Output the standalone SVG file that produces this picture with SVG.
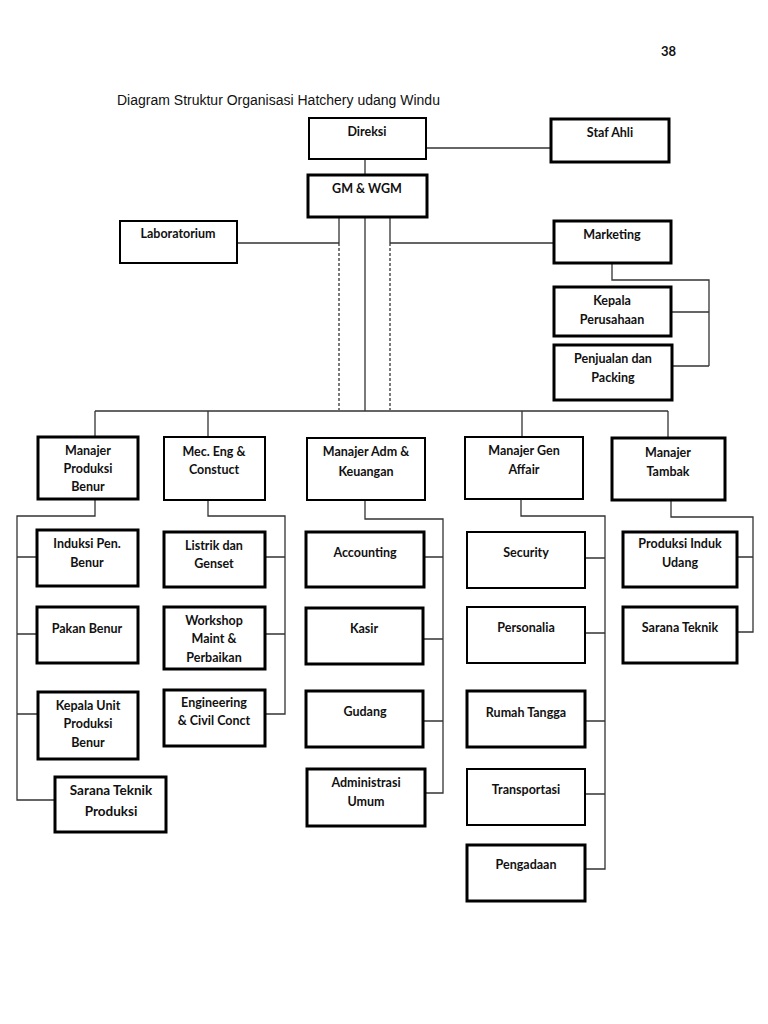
<svg xmlns="http://www.w3.org/2000/svg" width="768" height="1024" viewBox="0 0 768 1024">
<style>
.bg{fill:#fff}
.b{fill:#fff;stroke:#000;stroke-width:2}
.bt{fill:#fff;stroke:#000;stroke-width:3}
.t{font-family:Lato,"Open Sans",sans-serif;font-weight:700;font-size:12.5px;fill:#111;text-anchor:middle}
.tl{font-size:13.5px}
.c{fill:none;stroke:#333;stroke-width:1.3}
.d{fill:none;stroke:#333;stroke-width:1.3;stroke-dasharray:3 2}
.title{font-family:"Liberation Sans",Arial,sans-serif;font-size:14px;fill:#111}
.pg{font-family:Lato,"Open Sans",sans-serif;font-weight:700;font-size:13px;fill:#111;text-anchor:end}
</style>
<rect class="bg" x="0" y="0" width="768" height="1024"/>
<text class="pg" x="676" y="56">38</text>
<text class="title" x="117" y="105">Diagram Struktur Organisasi Hatchery udang Windu</text>

<g id="connectors">
<path class="c" d="M426 148H551"/>
<path class="c" d="M365 159V175"/>
<path class="c" d="M339 217V243M390 217V243"/>
<path class="d" d="M339 243V410M390 243V410"/>
<path class="c" d="M365 217V411"/>
<path class="c" d="M237 243H339M390 243H554"/>
<path class="c" d="M612 263V280H709V366M671 312H709M672 366H709"/>
<path class="c" d="M95 411H668M95 411V437M208 411V437M522 411V437M668 411V438"/>
<path class="c" d="M95 499V516H17V800H55M17 557H37M17 634H37M17 714H38"/>
<path class="c" d="M208 500V516H285V714H265M265 557H285M265 634H285"/>
<path class="c" d="M365 500V519H443V793H425M424 557H443M423 639H443M423 721H443"/>
<path class="c" d="M521 499V516H605V869H585M585 558H605M585 633H605M585 721H605M585 794H605"/>
<path class="c" d="M671 500V517H753V632H737M737 557H753"/>
</g>

<g id="direksi"><rect class="b" x="309" y="118" width="117" height="41"/><text class="t" x="367" y="136">Direksi</text></g>
<g id="staf-ahli"><rect class="bt" x="551" y="119" width="118" height="43"/><text class="t" x="610" y="137">Staf Ahli</text></g>
<g id="gm-wgm"><rect class="bt" x="308" y="175" width="119" height="42"/><text class="t" x="367" y="193">GM &amp; WGM</text></g>
<g id="laboratorium"><rect class="b" x="120" y="221" width="117" height="42"/><text class="t" x="178" y="238">Laboratorium</text></g>
<g id="marketing"><rect class="bt" x="554" y="221" width="117" height="42"/><text class="t" x="612" y="239">Marketing</text></g>
<g id="kepala-perusahaan"><rect class="bt" x="554" y="287" width="117" height="49"/><text class="t" x="612" y="305">Kepala</text><text class="t" x="612" y="324">Perusahaan</text></g>
<g id="penjualan-packing"><rect class="bt" x="554" y="345" width="118" height="55"/><text class="t" x="613" y="363">Penjualan dan</text><text class="t" x="613" y="382">Packing</text></g>

<g id="manajer-produksi-benur"><rect class="bt" x="38" y="437" width="100" height="62"/><text class="t" x="88" y="455">Manajer</text><text class="t" x="88" y="473">Produksi</text><text class="t" x="88" y="491">Benur</text></g>
<g id="mec-eng"><rect class="b" x="164" y="437" width="101" height="63"/><text class="t" x="214" y="456">Mec. Eng &amp;</text><text class="t" x="214" y="474">Constuct</text></g>
<g id="manajer-adm"><rect class="b" x="307" y="438" width="118" height="62"/><text class="t" x="366" y="456">Manajer Adm &amp;</text><text class="t" x="366" y="476">Keuangan</text></g>
<g id="manajer-gen-affair"><rect class="b" x="465" y="437" width="118" height="62"/><text class="t" x="524" y="455">Manajer Gen</text><text class="t" x="524" y="474">Affair</text></g>
<g id="manajer-tambak"><rect class="bt" x="612" y="438" width="113" height="62"/><text class="t" x="668" y="457">Manajer</text><text class="t" x="668" y="476">Tambak</text></g>

<g id="induksi"><rect class="bt" x="37" y="530" width="101" height="56"/><text class="t" x="87" y="548">Induksi Pen.</text><text class="t" x="87" y="567">Benur</text></g>
<g id="pakan-benur"><rect class="bt" x="37" y="607" width="101" height="56"/><text class="t" x="87" y="633">Pakan Benur</text></g>
<g id="kepala-unit"><rect class="bt" x="38" y="692" width="100" height="67"/><text class="t" x="88" y="710">Kepala Unit</text><text class="t" x="88" y="728">Produksi</text><text class="t" x="88" y="747">Benur</text></g>
<g id="sarana-teknik-produksi"><rect class="bt" x="55" y="777" width="111" height="55"/><text class="t tl" x="111" y="795">Sarana Teknik</text><text class="t tl" x="111" y="816">Produksi</text></g>

<g id="listrik"><rect class="bt" x="164" y="532" width="101" height="55"/><text class="t" x="214" y="550">Listrik dan</text><text class="t" x="214" y="568">Genset</text></g>
<g id="workshop"><rect class="bt" x="164" y="607" width="101" height="62"/><text class="t" x="214" y="625">Workshop</text><text class="t" x="214" y="643">Maint &amp;</text><text class="t" x="214" y="662">Perbaikan</text></g>
<g id="engineering"><rect class="bt" x="164" y="690" width="101" height="56"/><text class="t" x="214" y="707">Engineering</text><text class="t" x="214" y="725">&amp; Civil Conct</text></g>

<g id="accounting"><rect class="bt" x="306" y="532" width="118" height="55"/><text class="t" x="365" y="557">Accounting</text></g>
<g id="kasir"><rect class="bt" x="306" y="608" width="117" height="56"/><text class="t" x="364" y="633">Kasir</text></g>
<g id="gudang"><rect class="bt" x="306" y="691" width="117" height="56"/><text class="t" x="365" y="716">Gudang</text></g>
<g id="administrasi-umum"><rect class="bt" x="307" y="769" width="118" height="57"/><text class="t" x="366" y="787">Administrasi</text><text class="t" x="366" y="806">Umum</text></g>

<g id="security"><rect class="b" x="467" y="532" width="118" height="56"/><text class="t" x="526" y="557">Security</text></g>
<g id="personalia"><rect class="b" x="467" y="607" width="118" height="56"/><text class="t" x="526" y="632">Personalia</text></g>
<g id="rumah-tangga"><rect class="bt" x="467" y="691" width="118" height="56"/><text class="t" x="526" y="717">Rumah Tangga</text></g>
<g id="transportasi"><rect class="b" x="467" y="769" width="118" height="56"/><text class="t" x="526" y="794">Transportasi</text></g>
<g id="pengadaan"><rect class="bt" x="467" y="845" width="118" height="56"/><text class="t" x="526" y="869">Pengadaan</text></g>

<g id="produksi-induk-udang"><rect class="bt" x="623" y="532" width="114" height="55"/><text class="t" x="680" y="548">Produksi Induk</text><text class="t" x="680" y="567">Udang</text></g>
<g id="sarana-teknik"><rect class="bt" x="623" y="607" width="114" height="56"/><text class="t" x="680" y="632">Sarana Teknik</text></g>
</svg>
